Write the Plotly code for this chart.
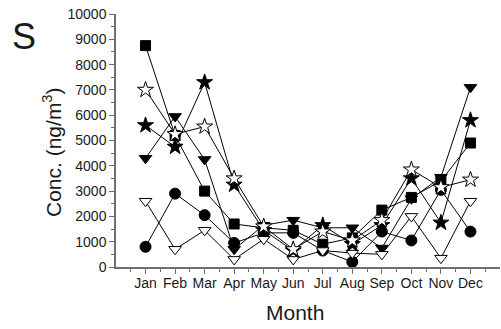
import plotly.graph_objects as go

months = ["Jan", "Feb", "Mar", "Apr", "May", "Jun", "Jul", "Aug", "Sep", "Oct", "Nov", "Dec"]
month_pos = list(range(1, 13))

# Monthly concentrations (ng/m^3) for each compound group
square_vals = [8750, 5200, 3000, 1700, 1550, 1450, 900, 1150, 2250, 2750, 3400, 4900]
circle_vals = [800, 2900, 2050, 950, 1350, 1350, 650, 200, 1400, 1050, 3050, 1400]
tri_filled_vals = [4300, 5950, 4250, 700, 1650, 1850, 1550, 1550, 750, 2700, 3550, 7100]
tri_open_vals = [2600, 700, 1450, 300, 1100, 300, 650, 550, 500, 2000, 350, 2600]
star_filled_vals = [5600, 4750, 7300, 3250, 1450, 650, 1650, 900, 1650, 3500, 1750, 5800]
star_open_vals = [7000, 5250, 5550, 3500, 1600, 700, 1400, 1050, 1850, 3850, 3150, 3450]

series = [
    (square_vals, "square", "black", 10),
    (circle_vals, "circle", "black", 11),
    (tri_filled_vals, "triangle-down", "black", 11),
    (tri_open_vals, "triangle-down", "white", 11),
    (star_filled_vals, "star", "black", 12),
    (star_open_vals, "star", "white", 12),
]

fig = go.Figure()
for vals, sym, fill, size in series:
    fig.add_trace(go.Scatter(
        x=month_pos, y=vals, mode="lines+markers",
        line=dict(color="black", width=1),
        marker=dict(symbol=sym, color=fill, size=size,
                    line=dict(color="black", width=1)),
        showlegend=False,
    ))

axis_color = "#6e6e6e"
tick_font = dict(family="Liberation Sans, Arial, sans-serif", size=14, color="#1a1a1a")

fig.update_xaxes(
    range=[0, 13], tickvals=month_pos, ticktext=months,
    showline=True, linecolor=axis_color, linewidth=1.5,
    ticks="outside", ticklen=5, tickcolor=axis_color, tickwidth=1,
    ticklabelstandoff=-3,
    minor=dict(tickvals=[i + 0.5 for i in range(13)], ticks="outside",
               ticklen=3, tickcolor=axis_color),
    showgrid=False, zeroline=False, tickfont=tick_font,
)
fig.update_yaxes(
    range=[0, 10000], dtick=1000, tickformat="d",
    showline=True, linecolor=axis_color, linewidth=1.5,
    ticks="outside", ticklen=5, tickcolor=axis_color, tickwidth=1,
    minor=dict(dtick=500, ticks="outside", ticklen=3, tickcolor=axis_color),
    showgrid=False, zeroline=False, tickfont=tick_font,
)

title_font = "Liberation Sans, Arial, sans-serif"
# (text, x px from left, y px from top, size, angle)
labels = [
    ("Conc. (ng/m<sup>3</sup>)", 52, 152, 21, -90),
    ("Month", 294.5, 312, 21, 0),
    ("S", 23.5, 36, 36, 0),
]

L, R, T, B = 116, 1, 14, 62
pw, ph = 501 - L - R, 329 - T - B
for text, px, py, size, angle in labels:
    fig.add_annotation(
        text=text, x=(px - L) / pw, y=(329 - py - B) / ph,
        xref="paper", yref="paper", xanchor="center", yanchor="middle",
        showarrow=False, textangle=angle,
        font=dict(family=title_font, size=size, color="#1a1a1a"),
    )

fig.update_layout(
    width=501, height=329,
    margin=dict(l=L, r=R, t=T, b=B),
    paper_bgcolor="white", plot_bgcolor="white",
)

fig.write_html("out.html")
